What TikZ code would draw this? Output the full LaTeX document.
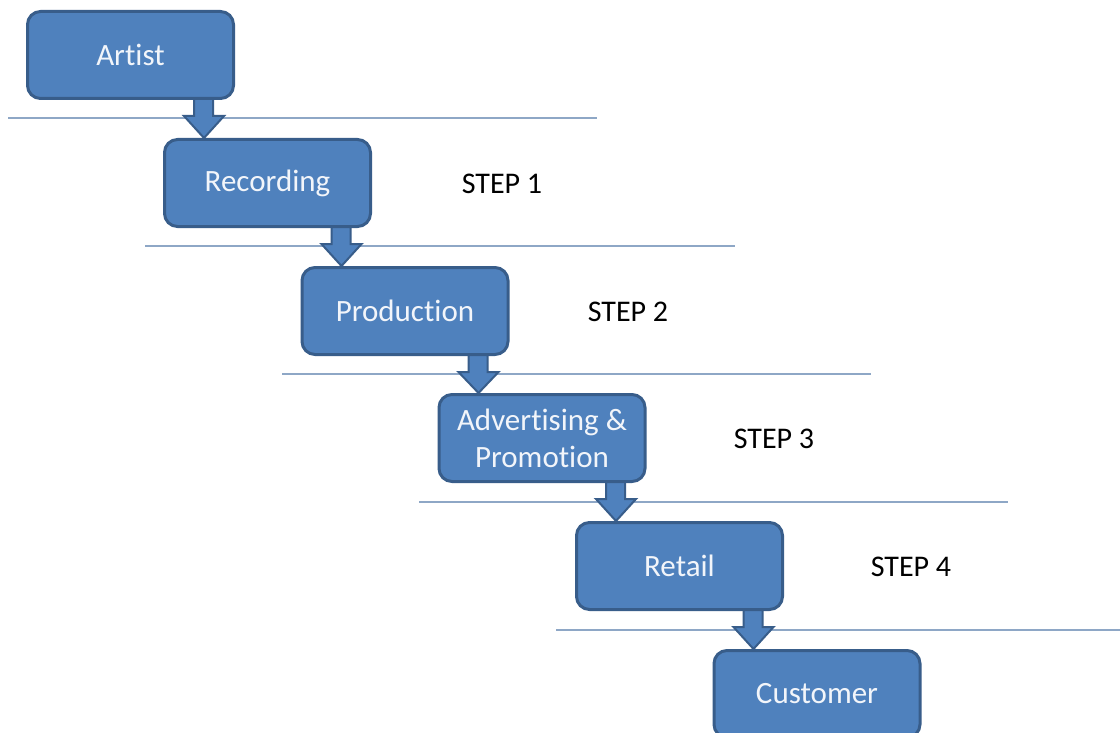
\documentclass[tikz,border=0pt]{standalone}
\usepackage{fontspec}
\setmainfont[Ligatures=NoCommon]{Carlito}
\usetikzlibrary{calc}
\definecolor{boxfill}{HTML}{4F81BD}
\definecolor{boxedge}{HTML}{385D8A}
\definecolor{rulecol}{HTML}{8EA7C6}
\definecolor{boxtext}{HTML}{F2F5FA}

% block arrow from the bottom of one stage to the top of the next
\newcommand\stagearrow[2]{%
  \draw[flowarrow] let \p1=(#1.south), \p2=(#2.north west) in
    (\x2+31pt,\y1+1pt) -- (\x2+50pt,\y1+1pt) -- (\x2+50pt,\y1-16pt)
    -- (\x2+61pt,\y1-16pt) -- (\x2+41pt,\y2) -- (\x2+21pt,\y1-16pt)
    -- (\x2+31pt,\y1-16pt) -- cycle;}

\begin{document}
\begin{tikzpicture}[x=1pt,y=-1pt,
  stage/.style={draw=boxedge, line width=3pt, fill=boxfill,
    rounded corners=13pt, minimum width=206pt, minimum height=87pt,
    inner sep=0pt, text=boxtext, align=center,
    font=\fontsize{31}{37}\selectfont},
  steplabel/.style={font=\fontsize{30}{36}\selectfont, text=black, inner sep=0pt},
  divider/.style={draw=rulecol, line width=1.5pt},
  flowarrow/.style={draw=boxedge, line width=2pt, fill=boxfill, line join=miter}]
\useasboundingbox (0,0) rectangle (1120,733);
\clip (0,0) rectangle (1120,733);
\fill[white] (0,0) rectangle (1120,733);

% level dividers
\draw[divider] (8,118) -- (597,118);
\draw[divider] (145,246) -- (735,246);
\draw[divider] (282,374) -- (871,374);
\draw[divider] (419,502) -- (1008,502);
\draw[divider] (556,630) -- (1120,630);

% stages
\node[stage] (artist)     at (130.5,55)  {Artist};
\node[stage] (recording)  at (267.5,183) {Recording};
\node[stage] (production) at (405,311)   {Production};
\node[stage] (promo)      at (542,438)   {Advertising \&\\Promotion};
\node[stage] (retail)     at (679.5,566) {Retail};
\node[stage] (customer)   at (817,694)   {Customer};

% step labels
\node[steplabel] (s1) at (502,184) {STEP 1};
\node[steplabel] (s2) at (628,312) {STEP 2};
\node[steplabel] (s3) at (774,439) {STEP 3};
\node[steplabel] (s4) at (911,567) {STEP 4};

% flow
\stagearrow{artist}{recording}
\stagearrow{recording}{production}
\stagearrow{production}{promo}
\stagearrow{promo}{retail}
\stagearrow{retail}{customer}
\end{tikzpicture}
\end{document}
